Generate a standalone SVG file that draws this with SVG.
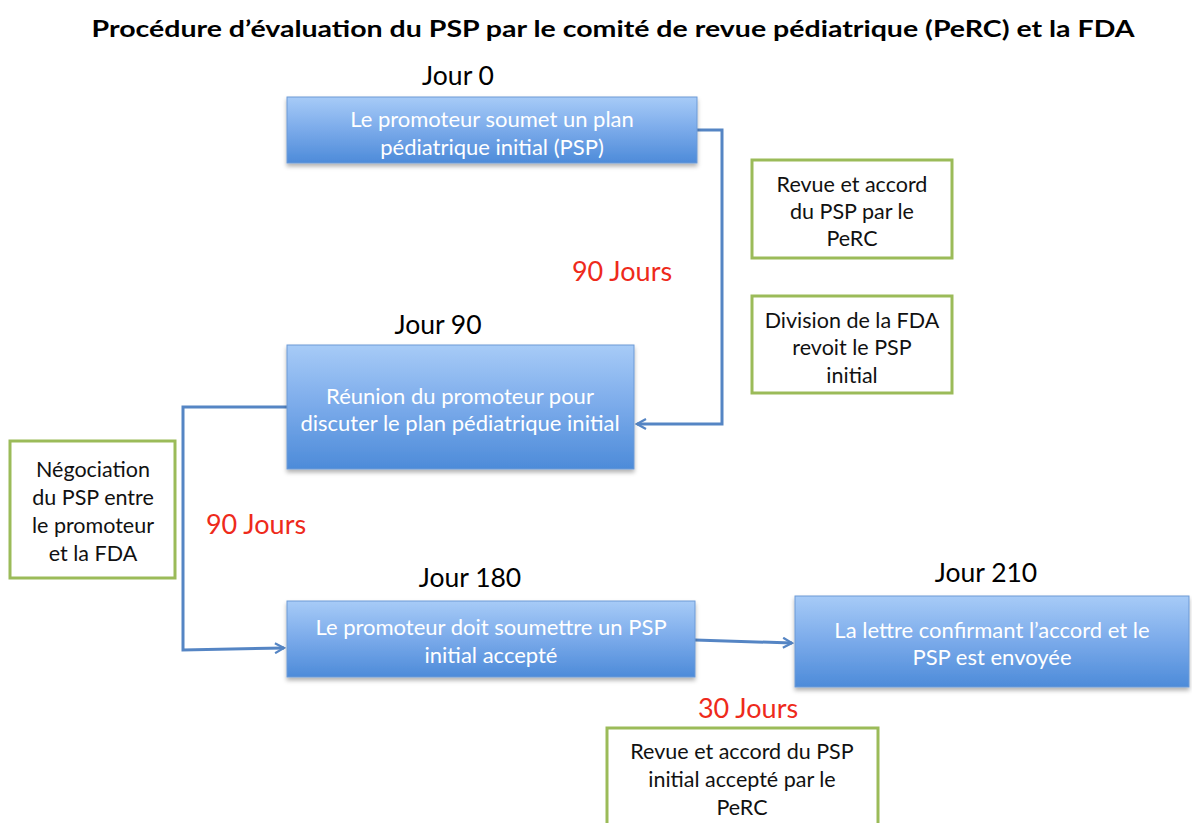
<svg xmlns="http://www.w3.org/2000/svg" width="1192" height="823" viewBox="0 0 1192 823">
<defs>
<linearGradient id="bg" x1="0" y1="0" x2="0" y2="1">
<stop offset="0" stop-color="#a7cbf7"/>
<stop offset="0.5" stop-color="#7aaaea"/>
<stop offset="1" stop-color="#4d8bd9"/>
</linearGradient>
<filter id="sh" x="-5%" y="-5%" width="110%" height="125%">
<feDropShadow dx="0" dy="3" stdDeviation="2" flood-color="#000" flood-opacity="0.3"/>
</filter>
<marker id="ah" viewBox="0 0 12 12" refX="10" refY="6" markerWidth="12" markerHeight="12" markerUnits="userSpaceOnUse" orient="auto">
<path d="M1,1 L10,6 L1,11" fill="none" stroke="#5585c4" stroke-width="2.2"/>
</marker>
</defs>
<style>
.blue{fill:url(#bg);stroke:#6d9ad6;stroke-width:1;filter:url(#sh)}
.green{fill:#fff;stroke:#9bbb59;stroke-width:3}
.wt{font-family:Lato,"Liberation Sans",sans-serif;font-size:22px;fill:#fff;text-anchor:middle}
.bt{font-family:Lato,"Liberation Sans",sans-serif;font-size:21.5px;fill:#111;text-anchor:middle}
.day{font-family:Lato,"Liberation Sans",sans-serif;font-size:26.5px;fill:#000;text-anchor:middle}
.red{font-family:Lato,"Liberation Sans",sans-serif;font-size:27px;fill:#ee2a1b;text-anchor:middle}
.conn{fill:none;stroke:#5585c4;stroke-width:3}
</style>
<rect width="1192" height="823" fill="#fff"/>
<text x="613" y="37" font-family="Lato,'Liberation Sans',sans-serif" font-weight="bold" font-size="22.5" text-anchor="middle" fill="#000" textLength="1043" lengthAdjust="spacingAndGlyphs">Procédure d’évaluation du PSP par le comité de revue pédiatrique (PeRC) et la FDA</text>

<g id="connectors">
<path class="conn" d="M697,130 H722 V424 H637" marker-end="url(#ah)"/>
<path class="conn" d="M287,407 H183 V650 L284,648" marker-end="url(#ah)"/>
<path class="conn" d="M695,640 L792,643" marker-end="url(#ah)"/>
</g>

<g id="n1">
<text class="day" x="458" y="85">Jour 0</text>
<rect class="blue" x="287" y="97" width="410" height="66"/>
<text class="wt" x="492" y="127">Le promoteur soumet un plan</text>
<text class="wt" x="492" y="155">pédiatrique initial (PSP)</text>
</g>

<g id="n2">
<text class="day" x="438" y="334">Jour 90</text>
<rect class="blue" x="287" y="345" width="347" height="124"/>
<text class="wt" x="460" y="404">Réunion du promoteur pour</text>
<text class="wt" x="460" y="431">discuter le plan pédiatrique initial</text>
</g>

<g id="n3">
<text class="day" x="470" y="587">Jour 180</text>
<rect class="blue" x="287" y="601" width="408" height="76"/>
<text class="wt" x="491" y="635">Le promoteur doit soumettre un PSP</text>
<text class="wt" x="491" y="663">initial accepté</text>
</g>

<g id="n4">
<text class="day" x="986" y="582">Jour 210</text>
<rect class="blue" x="795" y="596" width="394" height="91"/>
<text class="wt" x="992" y="638">La lettre confirmant l’accord et le</text>
<text class="wt" x="992" y="665">PSP est envoyée</text>
</g>

<g id="g1">
<rect class="green" x="752" y="160" width="200" height="98"/>
<text class="bt" x="852" y="192">Revue et accord</text>
<text class="bt" x="852" y="219">du PSP par le</text>
<text class="bt" x="852" y="246">PeRC</text>
</g>

<g id="g2">
<rect class="green" x="752" y="296" width="200" height="97"/>
<text class="bt" x="852" y="328">Division de la FDA</text>
<text class="bt" x="852" y="355">revoit le PSP</text>
<text class="bt" x="852" y="383">initial</text>
</g>

<g id="g3">
<rect class="green" x="10" y="441" width="165" height="137"/>
<text class="bt" x="93" y="477">Négociation</text>
<text class="bt" x="93" y="505">du PSP entre</text>
<text class="bt" x="93" y="533">le promoteur</text>
<text class="bt" x="93" y="561">et la FDA</text>
</g>

<g id="g4">
<rect class="green" x="607" y="728" width="271" height="110"/>
<text class="bt" x="742" y="759">Revue et accord du PSP</text>
<text class="bt" x="742" y="787">initial accepté par le</text>
<text class="bt" x="742" y="815">PeRC</text>
</g>

<g id="labels">
<text class="red" x="622" y="281">90 Jours</text>
<text class="red" x="256" y="534">90 Jours</text>
<text class="red" x="748" y="718">30 Jours</text>
</g>
</svg>
